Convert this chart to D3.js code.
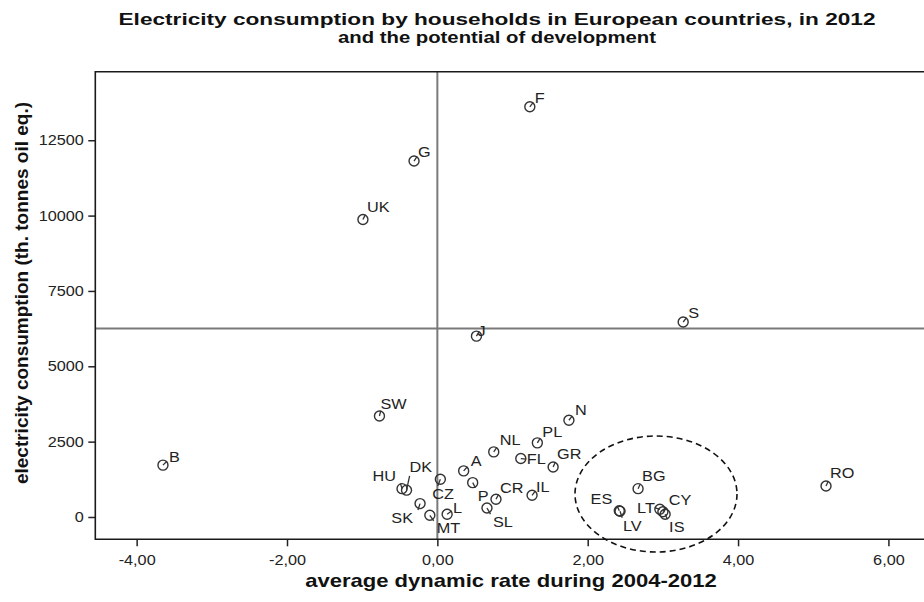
<!DOCTYPE html>
<html>
<head>
<meta charset="utf-8">
<script src="https://cdn.jsdelivr.net/npm/d3@7"></script>
<style>
  html, body { margin: 0; padding: 0; background: #fff; }
  text { font-family: "Liberation Sans", Arial, sans-serif; }
</style>
</head>
<body>
<div id="chart"></div>
<script>
// Country codes, dynamic rate 2004-2012 and household electricity consumption in 2012 (th. tonnes oil eq.)
const countries = ["F", "G", "UK", "J", "S", "B", "SW", "HU", "DK", "CZ", "SK", "MT", "L", "A", "P", "NL",
  "CR", "SL", "PL", "FL", "GR", "IL", "N", "BG", "ES", "LV", "LT", "CY", "IS", "RO"];
const dynamicRate = [1.23, -0.31, -0.99, 0.52, 3.27, -3.65, -0.77, -0.47, -0.41, 0.04, -0.23, -0.10, 0.13, 0.35, 0.47, 0.75,
  0.78, 0.66, 1.33, 1.11, 1.54, 1.26, 1.75, 2.67, 2.42, 2.43, 2.96, 3.00, 3.03, 5.17];
const consumption = [13610, 11810, 9870, 6000, 6470, 1720, 3350, 940, 890, 1250, 445, 56, 90, 1530, 1140, 2160,
  590, 300, 2460, 1940, 1660, 720, 3210, 940, 205, 190, 255, 175, 90, 1030];

// Axis ticks and reference lines
const xTicks = [-4, -2, 0, 2, 4, 6];
const yTicks = [0, 2500, 5000, 7500, 10000, 12500];
const xReference = 0;
const yReference = 6255;

// Label placement around each marker: [dx, dy, anchor]
const labelPlacement = {
  F: [5, -9, "start"], G: [4, -9, "start"], UK: [4, -12, "start"], J: [1, -5, "start"],
  S: [5, -9, "start"], B: [6, -8, "start"], SW: [1, -12, "start"], HU: [-6, -13, "end"],
  DK: [3, -23, "start"], CZ: [-8, 15, "start"], SK: [-7, 15, "end"], MT: [7, 13, "start"],
  L: [6, -6, "start"], A: [7, -10, "start"], P: [5, 13, "start"], NL: [6, -12, "start"],
  CR: [4, -11, "start"], SL: [6, 14, "start"], PL: [5, -11, "start"], FL: [6, 1, "start"],
  GR: [4, -13, "start"], IL: [4, -8, "start"], N: [6, -10, "start"], BG: [4, -13, "start"],
  ES: [-7, -12, "end"], LV: [3, 15, "start"], LT: [-5, -1, "end"], CY: [6, -12, "start"],
  IS: [4, 13, "start"], RO: [4, -13, "start"]
};

const W = 924, H = 602;
const plot = { left: 95.3, top: 71.7, right: 926, bottom: 539.3 };
const WIDEN = 1.16; // horizontal text is set slightly wide

const svg = d3.select("#chart").append("svg")
  .attr("width", W).attr("height", H);

// Widen a horizontal text element about its anchor point
function widen(sel, factor) {
  sel.each(function () {
    const len = this.getComputedTextLength();
    d3.select(this).attr("textLength", len * factor).attr("lengthAdjust", "spacingAndGlyphs");
  });
  return sel;
}

const x = d3.scaleLinear().domain([-4.55, 6.5]).range([plot.left, plot.right]);
const y = d3.scaleLinear().domain([-740, 14774]).range([plot.bottom, plot.top]);

// Two-line title, set wide
const titleLines = ["Electricity consumption by households in European countries, in 2012",
  "and the potential of development"];
const titleWidths = [757, 318];
titleLines.forEach((t, i) => {
  svg.append("text")
    .attr("x", 497).attr("y", 25 + i * 18)
    .attr("text-anchor", "middle")
    .attr("font-weight", "bold").attr("font-size", 16.5).attr("fill", "#111")
    .attr("textLength", titleWidths[i]).attr("lengthAdjust", "spacingAndGlyphs")
    .text(t);
});

// Reference lines
svg.append("line")
  .attr("x1", x(xReference)).attr("x2", x(xReference))
  .attr("y1", plot.top).attr("y2", plot.bottom)
  .attr("stroke", "#7a7a7a").attr("stroke-width", 2);
svg.append("line")
  .attr("x1", plot.left).attr("x2", plot.right)
  .attr("y1", y(yReference)).attr("y2", y(yReference))
  .attr("stroke", "#7a7a7a").attr("stroke-width", 2);

// Axes
const xAxis = d3.axisBottom(x).tickValues(xTicks).tickSize(7).tickSizeOuter(0)
  .tickFormat(d => d3.format(".2f")(d).replace(".", ",").replace("−", "-"));
const yAxis = d3.axisLeft(y).tickValues(yTicks).tickSize(7).tickSizeOuter(0)
  .tickFormat(d => String(d));

const gx = svg.append("g").attr("transform", `translate(0,${plot.bottom})`).call(xAxis);
const gy = svg.append("g").attr("transform", `translate(${plot.left},0)`).call(yAxis);
[gx, gy].forEach(g => {
  g.select(".domain").remove();
  g.selectAll(".tick line").attr("stroke", "#222").attr("stroke-width", 1.5);
  g.selectAll(".tick text")
    .attr("font-family", "'Liberation Sans', Arial, sans-serif")
    .attr("font-size", 14).attr("fill", "#222")
    .call(widen, WIDEN);
});
gx.selectAll(".tick text").attr("dy", "1.15em");
gy.selectAll(".tick text").attr("dx", "-0.1em");

// Plot frame (left, top and bottom edges)
svg.append("path")
  .attr("d", `M${plot.right},${plot.top}H${plot.left}V${plot.bottom}H${plot.right}`)
  .attr("fill", "none").attr("stroke", "#1a1a1a").attr("stroke-width", 1.6);

// Axis titles
svg.append("text")
  .attr("x", 511).attr("y", 587)
  .attr("text-anchor", "middle")
  .attr("font-weight", "bold").attr("font-size", 19).attr("fill", "#111")
  .text("average dynamic rate during 2004-2012")
  .call(widen, WIDEN);
svg.append("text")
  .attr("transform", `translate(28,293) rotate(-90)`)
  .attr("text-anchor", "middle")
  .attr("font-weight", "bold").attr("font-size", 19).attr("fill", "#111")
  .text("electricity consumption (th. tonnes oil eq.)");

// Highlighted group of fast-growing, low-consumption countries
svg.append("ellipse")
  .attr("cx", 656).attr("cy", 494).attr("rx", 81).attr("ry", 58)
  .attr("fill", "none").attr("stroke", "#111").attr("stroke-width", 1.6)
  .attr("stroke-dasharray", "6,4");

// Markers with short leader strokes and labels
const pts = countries.map((c, i) => ({ c, xv: dynamicRate[i], yv: consumption[i] }));
const g = svg.append("g");
const r = 5;
pts.forEach(p => {
  const cx = x(p.xv), cy = y(p.yv);
  const [dx, dy, anchor] = labelPlacement[p.c];
  const tx = dx + 2;
  const d = Math.hypot(tx, dy);
  const len = Math.max(5.5, d - 9);
  g.append("line")
    .attr("x1", cx).attr("y1", cy)
    .attr("x2", cx + tx / d * len).attr("y2", cy + dy / d * len)
    .attr("stroke", "#333").attr("stroke-width", 1.3);
  g.append("circle")
    .attr("cx", cx).attr("cy", cy).attr("r", r)
    .attr("fill", "none").attr("stroke", "#333").attr("stroke-width", 1.4);
  g.append("text")
    .attr("x", cx + dx).attr("y", cy + dy)
    .attr("dy", "0.35em")
    .attr("text-anchor", anchor)
    .attr("font-size", 14).attr("fill", "#222")
    .text(p.c)
    .call(widen, WIDEN);
});
</script>
</body>
</html>
